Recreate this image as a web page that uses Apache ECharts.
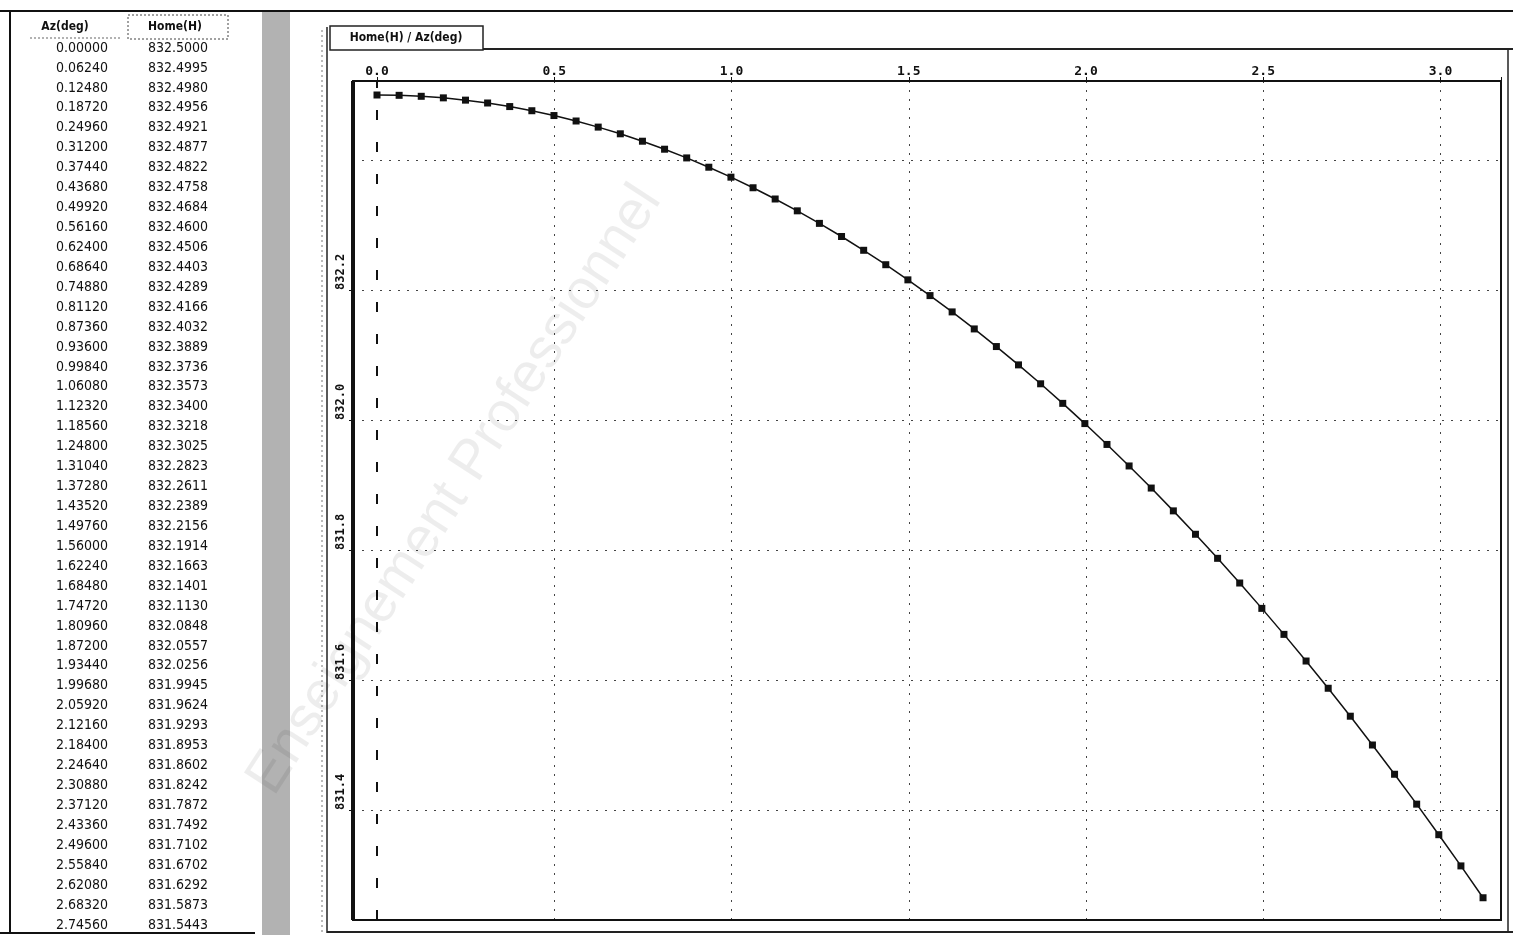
<!DOCTYPE html>
<html>
<head>
<meta charset="utf-8">
<script src="https://cdn.jsdelivr.net/npm/echarts@6/dist/echarts.min.js"></script>
<style>
html,body{margin:0;padding:0;background:#fff;}
#chart{width:1513px;height:935px;}
</style>
</head>
<body>
<div id="chart"></div>
<script>
// ---- data ----
const azDeg = [0.0000,0.0624,0.1248,0.1872,0.2496,0.3120,0.3744,0.4368,0.4992,0.5616,
  0.6240,0.6864,0.7488,0.8112,0.8736,0.9360,0.9984,1.0608,1.1232,1.1856,
  1.2480,1.3104,1.3728,1.4352,1.4976,1.5600,1.6224,1.6848,1.7472,1.8096,
  1.8720,1.9344,1.9968,2.0592,2.1216,2.1840,2.2464,2.3088,2.3712,2.4336,
  2.4960,2.5584,2.6208,2.6832,2.7456,2.8080,2.8704,2.9328,2.9952,3.0576,3.1200];
const homeH = [832.5000,832.4995,832.4980,832.4956,832.4921,832.4877,832.4822,832.4758,832.4684,832.4600,
  832.4506,832.4403,832.4289,832.4166,832.4032,832.3889,832.3736,832.3573,832.3400,832.3218,
  832.3025,832.2823,832.2611,832.2389,832.2156,832.1914,832.1663,832.1401,832.1130,832.0848,
  832.0557,832.0256,831.9945,831.9624,831.9293,831.8953,831.8602,831.8242,831.7872,831.7492,
  831.7102,831.6702,831.6292,831.5873,831.5443,831.5000,831.4550,831.4090,831.3620,831.3140,831.2650];
const tableHeaders = ['Az(deg)', 'Home(H)'];
const tableVisibleRows = 45;
const tabTitle = 'Home(H) / Az(deg)';
const watermark = 'Enseignement Professionnel';

// ---- layout ----
const W = 1513, H = 935;
const frame = {x: 353, y: 81, r: 1501, b: 920};
const x0px = 377;
const xPerUnit = 354.5;
const yPerUnit = 650;
const y832_4 = 160;

const xMax = (frame.r - x0px) / xPerUnit;
const yTopVal = 832.4 + (y832_4 - frame.y) / yPerUnit;
const yBotVal = 832.4 - (frame.b - y832_4) / yPerUnit;
const y831_4 = y832_4 + 1.0 * yPerUnit;

const narrow = '"Liberation Sans Narrow","DejaVu Sans Condensed",sans-serif';
const graphics = [];
// table borders
graphics.push({type:'line', shape:{x1:0,y1:11,x2:1513,y2:11}, style:{stroke:'#111',lineWidth:2}, silent:true});
graphics.push({type:'line', shape:{x1:10,y1:11,x2:10,y2:933}, style:{stroke:'#111',lineWidth:2}, silent:true});
graphics.push({type:'line', shape:{x1:0,y1:933,x2:255,y2:933}, style:{stroke:'#111',lineWidth:2}, silent:true});
graphics.push({type:'rect', shape:{x:128,y:15,width:100,height:24}, style:{fill:'none',stroke:'#444',lineWidth:1,lineDash:[2,2]}, silent:true});
graphics.push({type:'line', shape:{x1:30,y1:38,x2:120,y2:38}, style:{stroke:'#666',lineWidth:1,lineDash:[2,2]}, silent:true});
graphics.push({type:'text', x:65, y:27, style:{text:tableHeaders[0], font:'bold 12px ' + narrow, fill:'#111', align:'center', verticalAlign:'middle'}, silent:true});
graphics.push({type:'text', x:175, y:27, style:{text:tableHeaders[1], font:'bold 12px ' + narrow, fill:'#111', align:'center', verticalAlign:'middle'}, silent:true});
for (let i = 0; i < tableVisibleRows && i < azDeg.length; i++) {
  const y = 48 + i * 19.93;
  graphics.push({type:'text', x:82, y:y, style:{text:azDeg[i].toFixed(5), font:'14px ' + narrow, fill:'#111', align:'center', verticalAlign:'middle'}, silent:true});
  graphics.push({type:'text', x:178, y:y, style:{text:homeH[i].toFixed(4), font:'14px ' + narrow, fill:'#111', align:'center', verticalAlign:'middle'}, silent:true});
}
// textured separator
graphics.push({type:'rect', shape:{x:262,y:12,width:28,height:923}, style:{fill:'#b2b2b2'}, silent:true});
graphics.push({type:'line', shape:{x1:322,y1:30,x2:322,y2:935}, style:{stroke:'#777',lineWidth:1,lineDash:[2,3]}, silent:true});
// panel and tab
graphics.push({type:'line', shape:{x1:483,y1:49,x2:1513,y2:49}, style:{stroke:'#222',lineWidth:2}, silent:true});
graphics.push({type:'line', shape:{x1:327,y1:27,x2:327,y2:933}, style:{stroke:'#222',lineWidth:1.5}, silent:true});
graphics.push({type:'line', shape:{x1:327,y1:932,x2:1513,y2:932}, style:{stroke:'#222',lineWidth:2}, silent:true});
graphics.push({type:'line', shape:{x1:1508,y1:49,x2:1508,y2:932}, style:{stroke:'#222',lineWidth:1.5}, silent:true});
graphics.push({type:'rect', shape:{x:330,y:26,width:153,height:24}, style:{fill:'#fff',stroke:'#222',lineWidth:1.5}, silent:true});
graphics.push({type:'text', x:406, y:38, style:{text:tabTitle, font:'bold 12px ' + narrow, fill:'#111', align:'center', verticalAlign:'middle'}, silent:true});
// plot frame
graphics.push({type:'rect', shape:{x:frame.x,y:frame.y,width:frame.r-frame.x,height:frame.b-frame.y}, style:{fill:'none',stroke:'#111',lineWidth:2}, z:10, silent:true});
graphics.push({type:'line', shape:{x1:frame.x,y1:frame.y,x2:frame.x,y2:frame.b}, style:{stroke:'#111',lineWidth:4}, z:10, silent:true});
// watermark
graphics.push({type:'text', x:455, y:490, rotation:57*Math.PI/180, style:{text:watermark, font:'300 56px "Liberation Sans",Arial,sans-serif', fill:'rgba(0,0,0,0.07)', align:'center', verticalAlign:'middle'}, z:20, silent:true});

const seriesData = azDeg.map((a, i) => [a, homeH[i]]);
const dotted = {color:'#444', width:1, type:[2,7]};
const xSplitColors = ['rgba(0,0,0,0)','#444','#444','#444','#444','#444','#444','#444','#444'];
const mono = '"DejaVu Sans Mono","Liberation Mono",monospace';

const chart = echarts.init(document.getElementById('chart'), null, {renderer:'canvas'});
chart.setOption({
  animation: false,
  backgroundColor: '#fff',
  grid: [
    {left: x0px, right: W - frame.r, top: frame.y, bottom: H - frame.b},
    {left: frame.x, right: W - frame.r, top: y832_4, bottom: H - y831_4}
  ],
  xAxis: [
    {type:'value', gridIndex:0, position:'top', min:0, max:xMax, interval:0.5,
     axisLine:{show:false},
     axisTick:{show:true, inside:false, length:4, lineStyle:{color:'#111'}},
     axisLabel:{show:true, margin:3, color:'#111', fontFamily:mono, fontWeight:'bold', fontSize:13,
       formatter: v => (Math.abs(v*2 - Math.round(v*2)) > 1e-6 ? '' : v.toFixed(1))},
     splitLine:{show:true, lineStyle:{color:xSplitColors, width:1, type:[2,7]}}},
    {type:'value', gridIndex:1, min:0, max:1, show:false}
  ],
  yAxis: [
    {type:'value', gridIndex:0, min:yBotVal, max:yTopVal, show:false},
    {type:'value', gridIndex:1, position:'left', min:831.4, max:832.4, interval:0.2,
     axisLine:{show:false},
     axisTick:{show:true, length:4, lineStyle:{color:'#111'}},
     axisLabel:{show:true, rotate:90, align:'left', verticalAlign:'middle', margin:12, showMaxLabel:false,
       color:'#111', fontFamily:mono, fontWeight:'bold', fontSize:12,
       formatter: v => v.toFixed(1)},
     splitLine:{show:true, lineStyle:dotted}}
  ],
  graphic: graphics,
  series: [{
    type:'line', xAxisIndex:0, yAxisIndex:0, data:seriesData,
    symbol:'rect', symbolSize:7, showSymbol:true, clip:false,
    lineStyle:{color:'#111', width:1.5},
    itemStyle:{color:'#111'},
    markLine:{silent:true, symbol:['none','none'], label:{show:false},
      lineStyle:{color:'#111', width:2, type:[10,22]},
      data:[{xAxis:0}]}
  }]
});
</script>
</body>
</html>
